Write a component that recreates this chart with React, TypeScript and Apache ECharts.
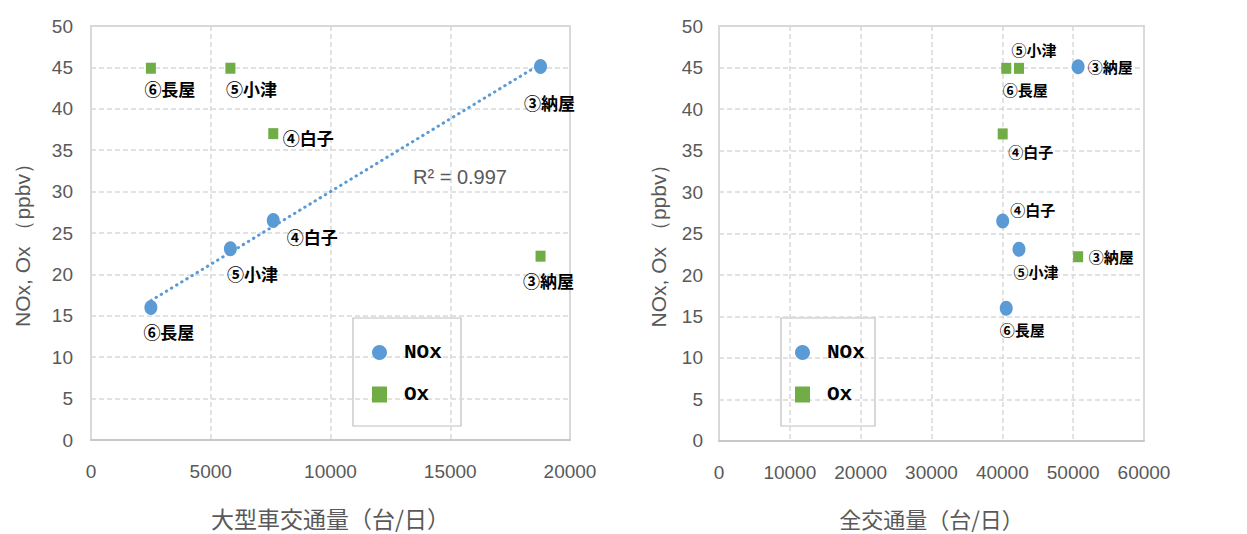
import React, { useEffect, useRef } from "react";
import * as echarts from "echarts";

// ---- data ----
const sites = ["⑥長屋", "⑤小津", "④白子", "③納屋"];
const heavyTraffic = [2500, 5820, 7610, 18770]; // 大型車交通量（台/日）
const totalTraffic = [40550, 42350, 40050, 50700]; // 全交通量（台/日）
const noxValues = [16.0, 23.1, 26.5, 45.1];
const oxValues = [44.9, 44.9, 37.0, 22.2];
const r2Text = "R² = 0.997";

// ---- label placement (styling, not data) ----
const leftNoxOffsets = [[18, 24], [22, 25], [39, 16], [9, 36]];
const leftOxOffsets = [[19, 20], [21, 20], [35, 4], [8, 24]];
const rightNoxOffsets = [[16, 21], [17, 22], [30, -12], [32, 0]];
const rightOxOffsets = [[19, 21], [15, -19], [28, 18], [33, 0]];

const BLUE = "#5b9bd5";
const GREEN = "#70ad47";
const GRAY = "#595959";
const NUM_FONT = "'Liberation Sans', sans-serif";
const JP_FONT = "'Noto Sans CJK JP', sans-serif";
const LEG_FONT = "'Liberation Mono', monospace";

function linReg(xs: number[], ys: number[]) {
  const n = xs.length;
  const mx = xs.reduce((a, b) => a + b, 0) / n;
  const my = ys.reduce((a, b) => a + b, 0) / n;
  let sxy = 0, sxx = 0;
  for (let i = 0; i < n; i++) {
    sxy += (xs[i] - mx) * (ys[i] - my);
    sxx += (xs[i] - mx) ** 2;
  }
  const slope = sxy / sxx;
  return { slope, intercept: my - slope * mx };
}

function points(xs: number[], ys: number[], offsets: number[][], fontSize: number) {
  return xs.map((x, i) => ({
    name: sites[i],
    value: [x, ys[i]],
    label: { offset: offsets[i], fontSize },
  }));
}

const labelStyle = {
  show: true,
  position: "inside",
  align: "center",
  verticalAlign: "middle",
  formatter: (p: any) => p.name,
  color: "#000",
  fontWeight: "bold",
  fontFamily: JP_FONT,
};

function xAxisCfg(grid: number, max: number, interval: number, name: string, nameSize: number) {
  return {
    type: "value",
    gridIndex: grid,
    min: 0,
    max,
    interval,
    name,
    nameLocation: "middle",
    nameGap: 66,
    nameTextStyle: { fontSize: nameSize, color: GRAY, fontFamily: JP_FONT },
    axisLine: { show: true, lineStyle: { color: "#c8c8c8", width: 2 } },
    axisTick: { show: false },
    axisLabel: { fontSize: 19, color: GRAY, fontFamily: NUM_FONT, margin: 22, formatter: (v: number) => String(v) },
    splitLine: { show: true, lineStyle: { color: "#d9d9d9", width: 1.5, type: [5, 3] } },
  };
}

function yAxisCfg(grid: number, nameGap: number, margin: number) {
  return {
    type: "value",
    gridIndex: grid,
    min: 0,
    max: 50,
    interval: 5,
    name: "NOx, Ox （ppbv）",
    nameLocation: "middle",
    nameGap,
    nameTextStyle: { fontSize: 21, color: GRAY, fontFamily: NUM_FONT, padding: [0, 14, 0, 0] },
    axisLine: { show: false },
    axisTick: { show: false },
    axisLabel: { fontSize: 19, color: GRAY, fontFamily: NUM_FONT, margin },
    splitLine: { show: true, lineStyle: { color: "#d9d9d9", width: 1.5, type: [5, 3] } },
  };
}

function legendCfg(left: number) {
  return {
    orient: "vertical",
    left,
    top: 337,
    itemWidth: 15,
    itemHeight: 16,
    itemGap: 21,
    selectedMode: false,
    textStyle: {
      fontSize: 21,
      fontWeight: "bold",
      color: "#000",
      fontFamily: LEG_FONT,
      padding: [0, 0, 0, 12],
    },
    data: [
      { name: "NOx", icon: "circle" },
      { name: "Ox", icon: "rect" },
    ],
  };
}

export default function App() {
  const ref = useRef<HTMLDivElement>(null);
  useEffect(() => {
    if (!ref.current) return;
    const chart = echarts.init(ref.current, null, { renderer: "svg" });
    const { slope, intercept } = linReg(heavyTraffic, noxValues);
    const xMin = Math.min(...heavyTraffic);
    const xMax = Math.max(...heavyTraffic);
    const trend = [
      [xMin, slope * xMin + intercept],
      [xMax, slope * xMax + intercept],
    ];

    chart.setOption({
      animation: false,
      backgroundColor: "#fff",
      grid: [
        { left: 91, top: 26, width: 479, height: 414, show: true, borderColor: "#d9d9d9", borderWidth: 2, backgroundColor: "transparent" },
        { left: 719, top: 26, width: 425, height: 415, show: true, borderColor: "#d9d9d9", borderWidth: 2, backgroundColor: "transparent" },
      ],
      xAxis: [
        xAxisCfg(0, 20000, 5000, "大型車交通量（台/日）", 23),
        xAxisCfg(1, 60000, 10000, "全交通量（台/日）", 22),
      ],
      yAxis: [yAxisCfg(0, 58, 18), yAxisCfg(1, 50, 16)],
      legend: [legendCfg(367), legendCfg(790)],
      graphic: [
        { type: "rect", z: 0, shape: { x: 353, y: 318, width: 108, height: 108 }, style: { fill: "#fff", stroke: "#bfbfbf", lineWidth: 1.2 } },
        { type: "rect", z: 0, shape: { x: 781, y: 318, width: 94, height: 108 }, style: { fill: "#fff", stroke: "#bfbfbf", lineWidth: 1.2 } },
        {
          type: "text",
          z: 5,
          x: 413,
          y: 177,
          style: { text: r2Text, fill: GRAY, fontSize: 20, fontFamily: NUM_FONT, verticalAlign: "middle", align: "left" },
        },
      ],
      series: [
        {
          type: "line",
          name: "trend",
          xAxisIndex: 0,
          yAxisIndex: 0,
          data: trend,
          symbol: "none",
          silent: true,
          z: 1,
          lineStyle: { color: BLUE, width: 3, type: [0.5, 5.5], cap: "round" },
        },
        {
          type: "scatter",
          name: "NOx",
          xAxisIndex: 0,
          yAxisIndex: 0,
          symbol: "circle",
          symbolSize: [13, 15],
          itemStyle: { color: BLUE, opacity: 1 },
          label: labelStyle,
          data: points(heavyTraffic, noxValues, leftNoxOffsets, 17),
          z: 3,
        },
        {
          type: "scatter",
          name: "Ox",
          xAxisIndex: 0,
          yAxisIndex: 0,
          symbol: "rect",
          symbolSize: [10, 11],
          itemStyle: { color: GREEN, opacity: 1 },
          label: labelStyle,
          data: points(heavyTraffic, oxValues, leftOxOffsets, 17),
          z: 3,
        },
        {
          type: "scatter",
          name: "NOx",
          xAxisIndex: 1,
          yAxisIndex: 1,
          symbol: "circle",
          symbolSize: [13, 15],
          itemStyle: { color: BLUE, opacity: 1 },
          label: labelStyle,
          data: points(totalTraffic, noxValues, rightNoxOffsets, 15),
          z: 3,
        },
        {
          type: "scatter",
          name: "Ox",
          xAxisIndex: 1,
          yAxisIndex: 1,
          symbol: "rect",
          symbolSize: [10, 11],
          itemStyle: { color: GREEN, opacity: 1 },
          label: labelStyle,
          data: points(totalTraffic, oxValues, rightOxOffsets, 15),
          z: 3,
        },
      ],
    });
    return () => chart.dispose();
  }, []);

  return (
    <div
      ref={ref}
      style={{ position: "fixed", left: 0, top: 0, width: 1247, height: 534, background: "#fff" }}
    />
  );
}
